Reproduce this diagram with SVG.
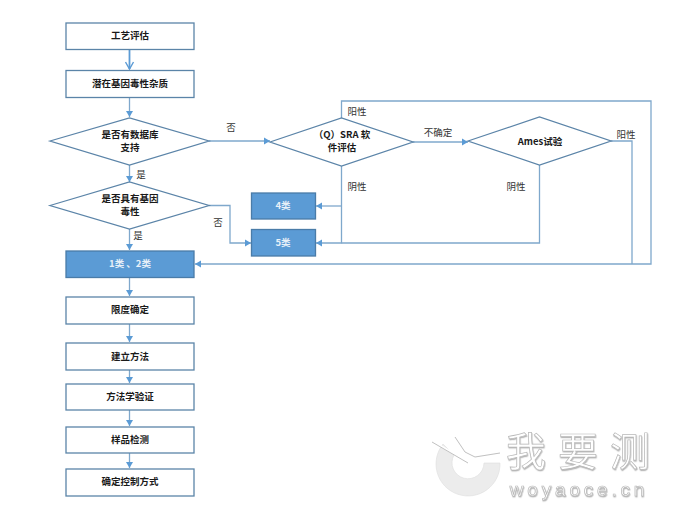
<svg xmlns="http://www.w3.org/2000/svg" width="700" height="512" viewBox="0 0 700 512">
  <style>
    text { font-family: "Noto Sans CJK SC", "Liberation Sans", sans-serif; text-anchor: middle; }
    .box { fill: #fff; stroke: #5b84a8; stroke-width: 1.3; }
    .solid { fill: #5b9bd5; stroke: #4a7ca8; stroke-width: 1.3; }
    .t { font-size: 9.5px; font-weight: 700; fill: #1a1a1a; }
    .w { font-size: 9.5px; font-weight: 700; fill: #e8f0f8; }
    .l { font-size: 9.5px; fill: #333; }
    .c { fill: none; stroke: #7fa8cc; stroke-width: 1.3; }
    .wm { fill: #fff; stroke: #b8b8b8; stroke-width: 0.7; filter: url(#lift); }
  </style>
  <defs>
    <marker id="head" markerUnits="userSpaceOnUse" markerWidth="8" markerHeight="8" refX="6" refY="4" orient="auto">
      <path d="M0 0.5L6 4L0 7.500Z" fill="#5b9bd5"/>
    </marker>
    <marker id="open" markerUnits="userSpaceOnUse" markerWidth="10" markerHeight="10" refX="8" refY="5" orient="auto">
      <path d="M1 1L8 5L1 9" fill="none" stroke="#5b9bd5" stroke-width="1.4"/>
    </marker>
    <filter id="lift" x="-10%" y="-10%" width="120%" height="130%">
      <feDropShadow dx="0.5" dy="1.2" stdDeviation="0.6" flood-color="#999" flood-opacity="0.7"/>
    </filter>
  </defs>

  <!-- Connectors -->
  <g id="connectors">
    <path class="c" d="M129.500 49V69" style="stroke:#5b9bd5;stroke-width:1.800" marker-end="url(#open)"/>
    <path class="c" d="M129.500 97V117" marker-end="url(#head)"/>
    <path class="c" d="M209 141H270" marker-end="url(#head)"/>
    <path class="c" d="M129.500 165V182" marker-end="url(#head)"/>
    <path class="c" d="M129.500 229V250" marker-end="url(#head)"/>
    <path class="c" d="M209 205.500H230V243H251" marker-end="url(#head)"/>
    <path class="c" d="M129.500 277V296" marker-end="url(#head)"/>
    <path class="c" d="M129.500 324V342" marker-end="url(#head)"/>
    <path class="c" d="M129.500 370V383" marker-end="url(#head)"/>
    <path class="c" d="M129.500 410V426" marker-end="url(#head)"/>
    <path class="c" d="M129.500 453V468" marker-end="url(#head)"/>
    <path class="c" d="M413 142H468" marker-end="url(#head)"/>
    <path class="c" d="M341.500 118V101H651V264H195" marker-end="url(#head)"/>
    <path class="c" d="M611 141H632V264"/>
    <path class="c" d="M341.500 166V243H316" marker-end="url(#head)"/>
    <path class="c" d="M341.500 206H316" marker-end="url(#head)"/>
    <path class="c" d="M539.500 165V243H341.500"/>
  </g>

  <!-- Edge labels -->
  <g id="edge-labels">
    <text class="l" x="231" y="131">否</text>
    <text class="l" x="141" y="178">是</text>
    <text class="l" x="218" y="226">否</text>
    <text class="l" x="138" y="239">是</text>
    <text class="l" x="357" y="115">阳性</text>
    <text class="l" x="357" y="190">阴性</text>
    <text class="l" x="438" y="136">不确定</text>
    <text class="l" x="516" y="190">阴性</text>
    <text class="l" x="626" y="138">阳性</text>
  </g>

  <!-- Process nodes -->
  <g id="n-assess"><rect class="box" x="66" y="23" width="128" height="26.500"/><text class="t" x="130" y="39">工艺评估</text></g>
  <g id="n-impurity"><rect class="box" x="66" y="70.500" width="128" height="27"/><text class="t" x="130" y="87">潜在基因毒性杂质</text></g>
  <g id="n-db"><polygon class="box" points="50,141 129.500,118 209,141 129.500,165"/><text class="t" x="130" y="138">是否有数据库</text><text class="t" x="130" y="151">支持</text></g>
  <g id="n-geno"><polygon class="box" points="50,205.500 129.500,182 209,205.500 129.500,229"/><text class="t" x="130" y="202">是否具有基因</text><text class="t" x="130" y="215">毒性</text></g>
  <g id="n-sra"><polygon class="box" points="270,142 341.500,118 413,142 341.500,166"/><text class="t" x="342" y="138">（Q）SRA 软</text><text class="t" x="342" y="151">件评估</text></g>
  <g id="n-ames"><polygon class="box" points="468,141 539.500,117 611,141 539.500,165"/><text class="t" x="540" y="145">Ames试验</text></g>
  <g id="n-class4"><rect class="solid" x="251.500" y="193" width="64" height="26"/><text class="w" x="283" y="209">4类</text></g>
  <g id="n-class5"><rect class="solid" x="251.500" y="229.500" width="64" height="26.500"/><text class="w" x="283" y="246">5类</text></g>
  <g id="n-class12"><rect class="solid" x="66" y="251" width="128" height="26.500"/><text class="w" x="130" y="267">1类 、2类</text></g>
  <g id="n-limit"><rect class="box" x="66" y="297" width="128" height="27"/><text class="t" x="130" y="313">限度确定</text></g>
  <g id="n-method"><rect class="box" x="66" y="343" width="128" height="27"/><text class="t" x="130" y="360">建立方法</text></g>
  <g id="n-valid"><rect class="box" x="66" y="384" width="128" height="26"/><text class="t" x="130" y="400">方法学验证</text></g>
  <g id="n-sample"><rect class="box" x="66" y="427" width="128" height="26"/><text class="t" x="130" y="443">样品检测</text></g>
  <g id="n-control"><rect class="box" x="66" y="469" width="128" height="27"/><text class="t" x="130" y="485">确定控制方式</text></g>

  <!-- Site mark -->
  <g id="site-mark">
    <path d="M443 444A32 32 0 1 0 500 463L484 463A16 16 0 1 1 454 455Z" fill="#ececec" stroke="#dedede" stroke-width="0.6"/>
    <path d="M432 441L468 462M455 436L465 451L475 456L500 452" fill="none" stroke="#fff" stroke-width="2.500"/>
    <path d="M432 442L468 463M455 437L465 452L475 457L500 453" fill="none" stroke="#b0b0b0" stroke-width="0.8"/>
    <text class="wm" x="584" y="466" style="font-size:40px;font-weight:400;letter-spacing:12px">我要测</text>
    <text class="wm" x="579" y="496" style="font-size:19px;letter-spacing:3.800px;font-family:'Liberation Sans',sans-serif">woyaoce.cn</text>
  </g>
</svg>
